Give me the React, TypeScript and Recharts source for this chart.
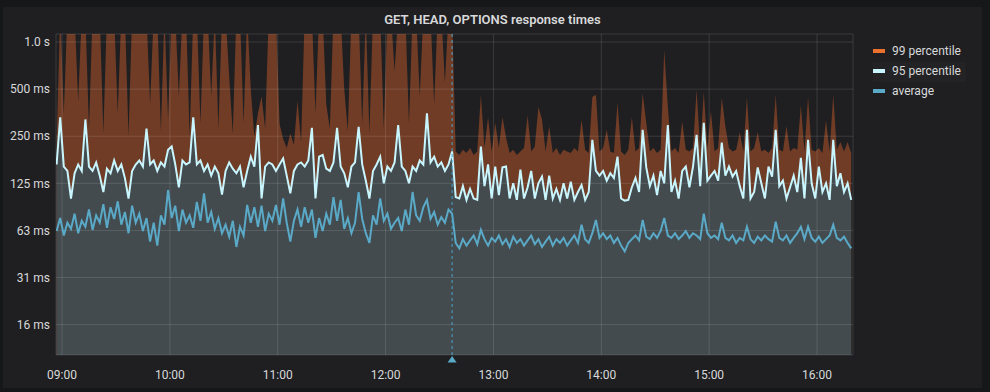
import React from "react";
import {
  ComposedChart,
  Area,
  Line,
  XAxis,
  YAxis,
  CartesianGrid,
  ReferenceLine,
  ReferenceDot,
} from "recharts";

// samples every 2 minutes starting 08:57 (minutes after midnight)
const START = 537;
const STEP = 2;

// response times in ms (values above ~1.1 s are clipped)
const p99 = [
  230, 1500, 350, 1500, 1500, 1500, 420, 1500, 1500, 280,
  1500, 1500, 1500, 260, 1500, 1500, 1500, 350, 1500, 1500,
  250, 1500, 1500, 1500, 1500, 1500, 400, 1500, 1500, 270,
  1500, 320, 1500, 1500, 450, 1500, 1500, 250, 1500, 1500,
  300, 1500, 1500, 450, 1500, 280, 1500, 1500, 600, 260,
  1500, 1500, 300, 1500, 500, 250, 350, 450, 280, 1500,
  1500, 1500, 300, 240, 210, 260, 220, 420, 230, 1500,
  1500, 1500, 350, 1500, 1500, 400, 280, 1500, 1500, 1500,
  500, 270, 1500, 1500, 1500, 300, 1500, 260, 1500, 1500,
  1500, 280, 1500, 1500, 650, 1500, 1500, 1500, 300, 1500,
  1500, 450, 1500, 1500, 1500, 400, 1500, 1500, 550, 1500,
  1500, 200, 190, 205, 195, 210, 190, 200, 460, 210,
  330, 200, 305, 210, 330, 245, 195, 205, 190, 200,
  210, 340, 200, 215, 385, 320, 200, 290, 195, 210,
  190, 205, 200, 195, 210, 200, 318, 205, 195, 445,
  460, 200, 210, 275, 200, 195, 410, 200, 190, 205,
  330, 200, 210, 470, 305, 200, 210, 195, 205, 890,
  385, 200, 210, 195, 310, 205, 200, 210, 495, 205,
  480, 210, 360, 200, 210, 440, 290, 210, 200, 205,
  265, 200, 440, 200, 210, 265, 200, 205, 195, 210,
  460, 205, 200, 290, 200, 210, 205, 395, 200, 445,
  205, 200, 210, 195, 315, 200, 460, 205, 230, 200,
  230, 195,
];

const p95 = [
  165, 330, 160, 150, 100, 145, 165, 150, 320, 160,
  150, 170, 140, 110, 155, 145, 175, 150, 165, 135,
  100, 150, 165, 175, 160, 280, 165, 175, 150, 170,
  160, 205, 215, 165, 118, 175, 165, 170, 330, 165,
  175, 150, 165, 140, 160, 145, 106, 150, 170, 155,
  145, 160, 118, 150, 185, 160, 295, 100, 160, 170,
  165, 150, 165, 180, 140, 108, 150, 165, 170, 160,
  175, 283, 100, 185, 190, 155, 150, 170, 283, 160,
  145, 118, 160, 170, 287, 165, 130, 100, 150, 165,
  185, 125, 160, 150, 170, 295, 160, 150, 125, 160,
  150, 175, 165, 350, 170, 185, 160, 170, 150, 165,
  200, 102, 100, 120, 98, 115, 100, 98, 215, 120,
  165, 100, 160, 105, 158, 160, 100, 125, 98, 153,
  100, 118, 150, 100, 125, 138, 98, 140, 100, 115,
  98, 125, 100, 128, 98, 110, 122, 98, 110, 237,
  150, 140, 150, 130, 145, 135, 185, 100, 97, 98,
  118, 135, 110, 275, 158, 120, 140, 105, 150, 125,
  295, 110, 130, 100, 150, 160, 118, 160, 255, 120,
  305, 130, 140, 150, 130, 228, 140, 160, 138, 150,
  120, 100, 275, 100, 110, 158, 125, 100, 160, 138,
  275, 120, 130, 100, 118, 140, 110, 182, 100, 237,
  125, 100, 160, 110, 125, 98, 237, 120, 145, 110,
  125, 98,
];

const avg = [
  62, 75, 58, 70, 64, 80, 60, 72, 66, 85,
  63, 78, 70, 92, 65, 88, 74, 96, 68, 82,
  60, 90, 70, 80, 62, 75, 53, 70, 50, 78,
  68, 113, 75, 90, 62, 85, 70, 78, 65, 95,
  72, 108, 70, 82, 64, 75, 60, 68, 57, 72,
  49, 66, 58, 91, 70, 88, 66, 90, 62, 80,
  72, 91, 68, 100, 70, 53, 72, 85, 66, 88,
  70, 85, 56, 75, 62, 80, 68, 102, 72, 98,
  64, 75, 60, 70, 110, 74, 60, 52, 78, 68,
  100, 72, 80, 64, 70, 75, 62, 85, 68, 110,
  78, 72, 88, 98, 74, 82, 68, 76, 70, 85,
  80, 52, 48, 55, 50, 54, 58, 51, 63, 55,
  50, 56, 53, 58, 51, 55, 49, 57, 52, 55,
  50, 54, 58, 51, 55, 49, 53, 57, 50, 55,
  52, 56, 50, 54, 58, 52, 68, 55, 52, 60,
  73, 56, 60, 55, 58, 52, 56, 50, 46, 52,
  55, 58, 54, 73, 57, 55, 60, 56, 62, 75,
  58, 56, 60, 55, 58, 62, 56, 60, 58, 55,
  80, 60, 56, 58, 55, 70, 56, 54, 58, 52,
  56, 54, 66, 55, 52, 57, 54, 58, 55, 53,
  71, 56, 54, 58, 52, 56, 60, 66, 55, 66,
  56, 53, 57, 52, 55, 58, 68, 56, 54, 57,
  52, 48,
];

const xTicks = [540, 600, 660, 720, 780, 840, 900, 960];
const yTicks = [15.625, 31.25, 62.5, 125, 250, 500, 1000];
const annotationAt = 757; // 12:37 deploy marker

const legendItems = [
  { name: "99 percentile", color: "#ea712e" },
  { name: "95 percentile", color: "#c9f6fe" },
  { name: "average", color: "#5aa9c7" },
];

const data = p95.map((v, i) => ({
  t: START + i * STEP,
  p99: p99[i],
  p95: v,
  avg: avg[i],
}));

const X_DOMAIN: [number, number] = [536.66, 980];
const Y_DOMAIN: [number, number] = [10, 1125];
const FONT = "Roboto, Helvetica, Arial, sans-serif";
const TEXT = "#d8d9da";

const fmtTime = (m: number) =>
  `${String(Math.floor(m / 60)).padStart(2, "0")}:${String(Math.round(m) % 60).padStart(2, "0")}`;
const fmtMs = (v: number) => (v >= 1000 ? `${(v / 1000).toFixed(1)} s` : `${Math.round(v)} ms`);

const Triangle = (props: any) => {
  const { cx, cy } = props;
  return <path d={`M${cx},${cy + 1} l4.5,6.5 l-9,0 z`} fill="#5aa9c7" />;
};

export default function App() {
  return (
    <div style={{ position: "fixed", left: 0, top: 0, width: 990, height: 392, background: "#161719", fontFamily: FONT }}>
      <div style={{ position: "absolute", left: 3, top: 7, width: 979, height: 381, background: "#1f1f21" }} />
      <div
        style={{
          position: "absolute",
          left: 3,
          width: 979,
          top: 12,
          textAlign: "center",
          color: TEXT,
          fontSize: 13,
          fontWeight: 600,
        }}
      >
        GET, HEAD, OPTIONS response times
      </div>

      {/* filled areas */}
      <div style={{ position: "absolute", left: 0, top: 0 }}>
        <ComposedChart width={990} height={392} data={data} margin={{ top: 34, right: 137, bottom: 37, left: 56 }}>
          <XAxis dataKey="t" type="number" domain={X_DOMAIN} allowDataOverflow hide />
          <YAxis type="number" scale="log" domain={Y_DOMAIN} allowDataOverflow hide />
          <Area type="linear" dataKey="p99" stroke="none" fill="#703c26" fillOpacity={1} baseValue={10} isAnimationActive={false} />
          <Area type="linear" dataKey="p95" stroke="none" fill="#434b4f" fillOpacity={1} baseValue={10} isAnimationActive={false} />
        </ComposedChart>
      </div>

      {/* grid, lines, axes on top */}
      <div style={{ position: "absolute", left: 0, top: 0 }}>
        <ComposedChart width={990} height={392} data={data} margin={{ top: 34, right: 137, bottom: 0, left: 0 }}>
          <CartesianGrid stroke="rgba(255,255,255,0.12)" />
          <XAxis
            dataKey="t"
            type="number"
            domain={X_DOMAIN}
            allowDataOverflow
            ticks={xTicks}
            tickFormatter={fmtTime}
            height={37}
            axisLine={false}
            tickLine={false}
            tickSize={0}
            tickMargin={15}
            tick={{ fill: TEXT, fontSize: 12, fontFamily: FONT }}
          />
          <YAxis
            type="number"
            scale="log"
            domain={Y_DOMAIN}
            allowDataOverflow
            ticks={yTicks}
            tickFormatter={fmtMs}
            width={56}
            axisLine={false}
            tickLine={false}
            tickSize={0}
            tickMargin={6}
            tick={{ fill: TEXT, fontSize: 12, fontFamily: FONT }}
          />
          <Line type="linear" dataKey="p95" stroke="#c9f6fe" strokeWidth={2} dot={false} isAnimationActive={false} />
          <Line type="linear" dataKey="avg" stroke="#5aa9c7" strokeWidth={2} dot={false} isAnimationActive={false} />
          <ReferenceLine x={annotationAt} stroke="#4aa3cc" strokeDasharray="3 3" strokeWidth={1} />
          <ReferenceDot x={annotationAt} y={10} ifOverflow="visible" shape={<Triangle />} />
        </ComposedChart>
      </div>

      {/* legend */}
      <div style={{ position: "absolute", left: 873, top: 62, width: 93, height: 20, background: "#232325" }} />
      {legendItems.map((it, i) => (
        <div
          key={it.name}
          style={{ position: "absolute", left: 873, top: 43 + i * 20, height: 16, display: "flex", alignItems: "center", color: TEXT, fontSize: 12 }}
        >
          <span style={{ display: "inline-block", width: 12, height: 4, background: it.color, marginRight: 7 }} />
          {it.name}
        </div>
      ))}
    </div>
  );
}
